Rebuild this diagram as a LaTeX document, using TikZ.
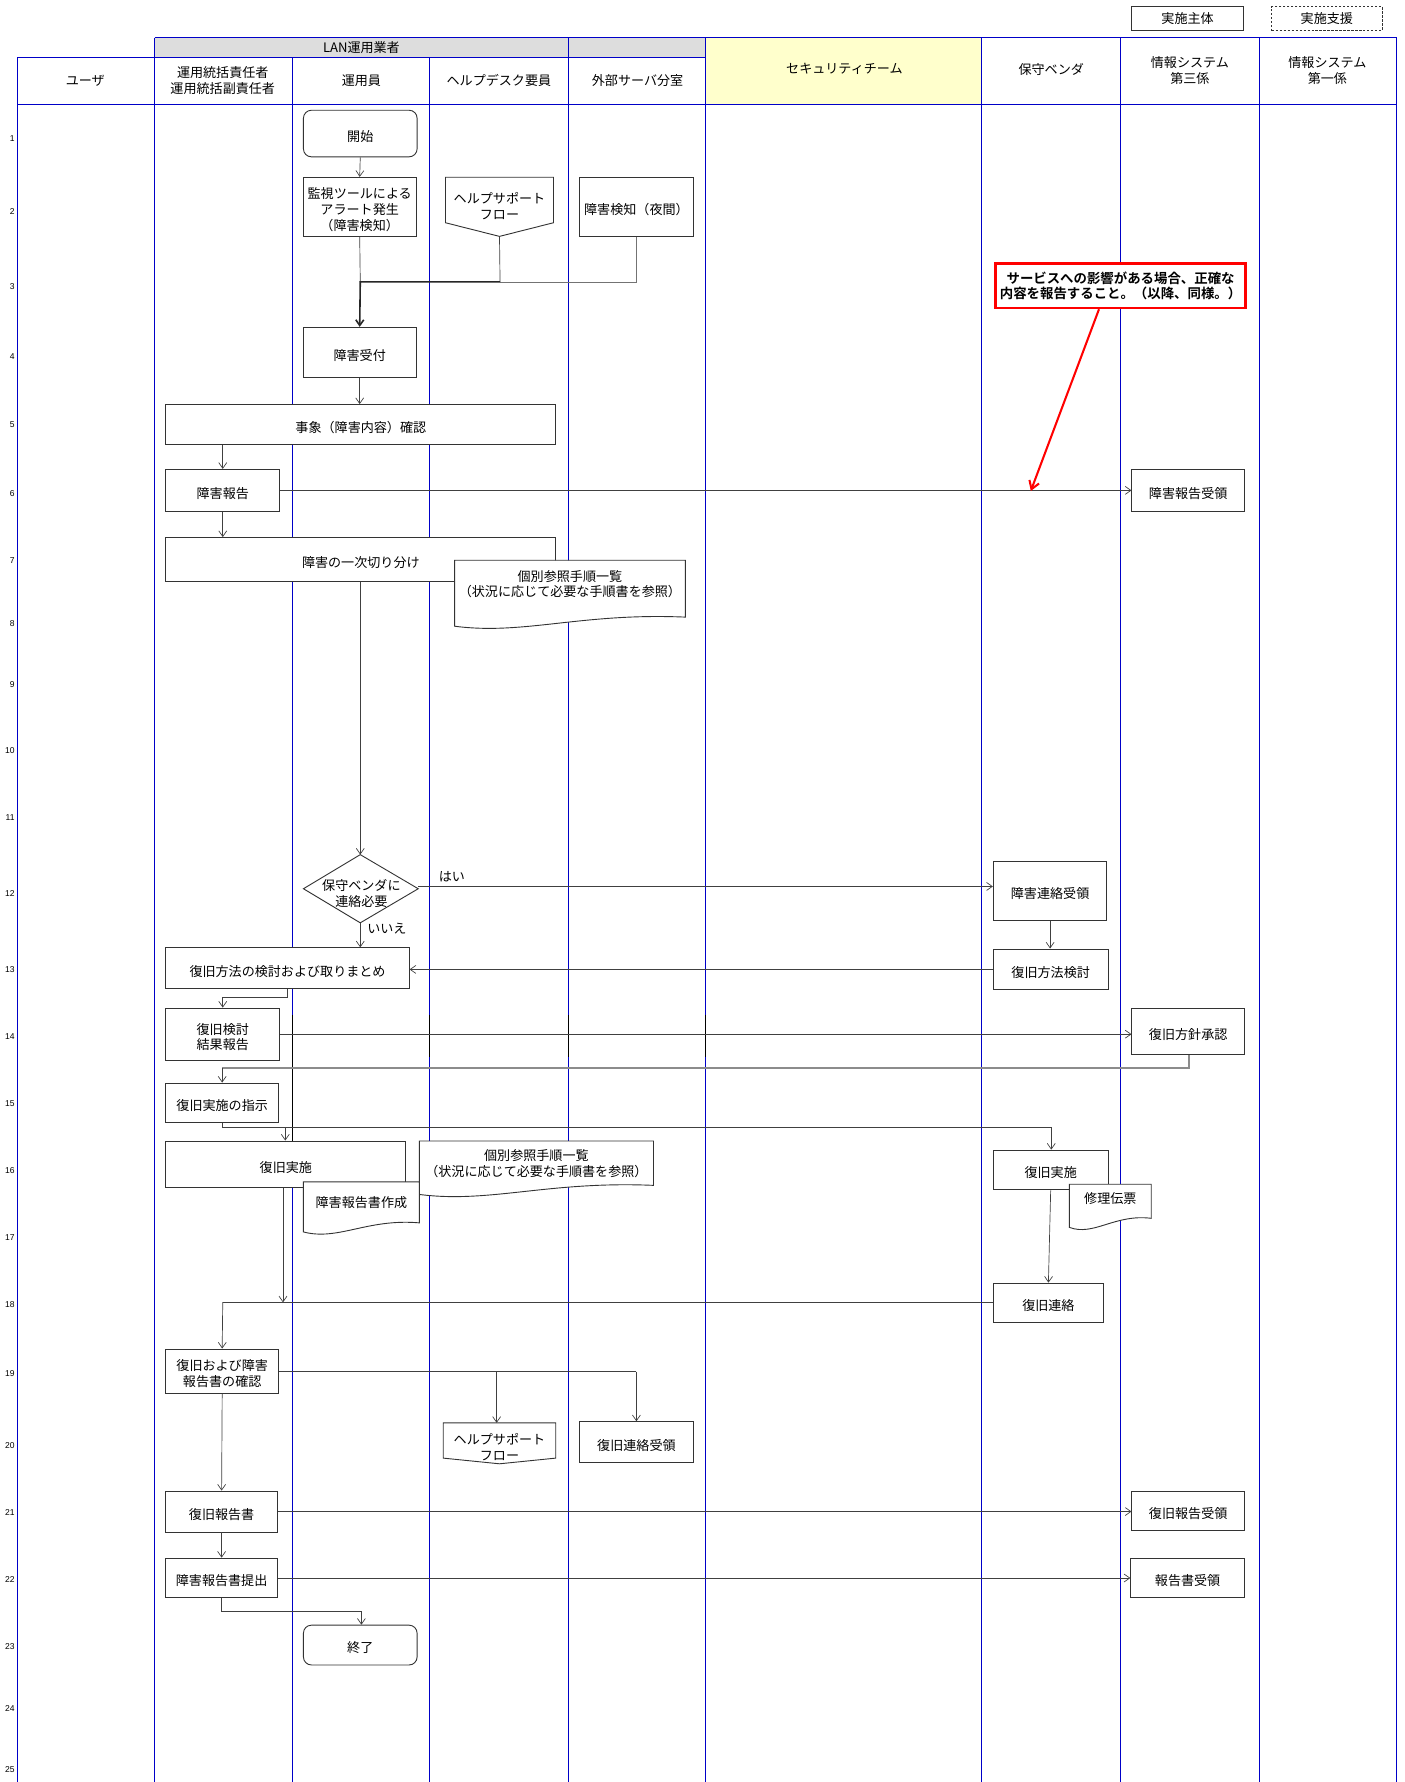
\documentclass[tikz,border=0pt]{standalone}
\usepackage{fontspec}
\setmainfont{Noto Sans CJK JP}[BoldFont={Noto Sans CJK JP Bold}]
\newfontfamily\numfont{Liberation Sans}
\usetikzlibrary{arrows.meta,calc}
\definecolor{lanecol}{RGB}{0,0,200}
\definecolor{hdryellow}{RGB}{255,255,204}
\definecolor{hdrgrey}{RGB}{221,221,221}
\tikzset{
  lane/.style={draw=lanecol,line width=0.9pt},
  box/.style={draw=black!80,line width=0.8pt,fill=white,inner sep=0pt},
  txt/.style={inner sep=0pt,align=center,font=\fontsize{11.5}{14}\selectfont},
  hdr/.style={inner sep=0pt,align=center,font=\fontsize{11.5}{14}\selectfont},
  shapeline/.style={draw=black!80,line width=0.8pt,fill=white},
  conn/.style={draw=black!75,line width=0.6pt},
  arr/.style={conn,-{Straight Barb[length=5pt,width=7pt]}},
  thickarr/.style={draw=black!85,line width=1.4pt,-{Straight Barb[length=5pt,width=7pt]}},
  num/.style={inner sep=0pt,anchor=east,font=\numfont\fontsize{7.5}{9}\selectfont},
}
% box: [opts] name x1 y1 x2 y2 text  (text set a little below centre, as in the reference)
\newcommand\bx[7][]{%
  \node[box,minimum width={#5pt-#3pt},minimum height={#6pt-#4pt},#1] (#2) at ({(#3+#5)/2},{(#4+#6)/2}) {};
  \node[txt] (#2t) at ([yshift=-2.5pt]#2.center) {#7};}
% document shape: #1 name, #2 x1, #3 y1, #4 x2, #5 bottom-left y, #6 text centre y, #7 text
\newcommand\docsh[7]{%
  \draw[shapeline] (#2,#3) -- (#4,#3) -- (#4,#5-8)
    .. controls ({#2+0.55*(#4-#2)},#5-12) and ({#2+0.3*(#4-#2)},#5+8) .. (#2,#5) -- cycle;
  \node[txt] (#1) at ({(#2+#4)/2},#6) {#7};}
% off-page connector: #1 name, #2 x1, #3 y1, #4 x2, #5 side y, #6 tip y, #7 text centre y, #8 text
\newcommand\offp[8]{%
  \draw[shapeline] (#2,#3) -- (#4,#3) -- (#4,#5) -- ({(#2+#4)/2},#6) -- (#2,#5) -- cycle;
  \coordinate (#1T) at ({(#2+#4)/2},#3);
  \coordinate (#1B) at ({(#2+#4)/2},#6);
  \node[txt] (#1) at ({(#2+#4)/2},#7) {#8};}

\begin{document}
\begin{tikzpicture}[x=1pt,y=-1pt]
\fill[white] (0,0) rectangle (1236,1568);
\useasboundingbox (0,0) rectangle (1236,1568);

% ---------- legend ----------
\node[box,minimum width=98pt,minimum height=21pt] (lgA) at (1045,16.5) {};
\node[txt] (lgAt) at (1045,16.5) {実施主体};
\node[box,dashed,dash pattern=on 2pt off 1.5pt,line width=0.6pt,minimum width=97pt,minimum height=21pt] (lgB) at (1167.5,16.5) {};
\node[txt] (lgBt) at (1167.5,16.5) {実施支援};

% ---------- header fills ----------
\fill[hdrgrey] (136,33) rectangle (621,51);
\fill[hdryellow] (621,33) rectangle (864,92);

% ---------- lane grid ----------
\draw[lane] (136,33) -- (1229,33);
\draw[lane] (15,51) -- (621,51);
\draw[lane] (15,92) -- (1229,92);
\draw[lane] (15,51) -- (15,1568);
\foreach \x in {136,500,621,864,986,1108,1229} \draw[lane] (\x,33) -- (\x,1568);
\foreach \x in {257,378} \draw[lane] (\x,51) -- (\x,1568);
% black cell-border segments
\draw[black,line width=0.9pt] (257,893) -- (257,1010);
\foreach \x in {378,500,621} \draw[black,line width=0.9pt] (\x,893) -- (\x,930);

% ---------- header texts ----------
\node[hdr] (hLAN) at (318,42) {LAN運用業者};
\node[hdr] (hU) at (75,71) {ユーザ};
\node[hdr] (hS) at (196,71) {運用統括責任者\\運用統括副責任者};
\node[hdr] (hO) at (318,71) {運用員};
\node[hdr] (hH) at (439,71) {ヘルプデスク要員};
\node[hdr] (hG) at (561,71) {外部サーバ分室};
\node[hdr] (hSec) at (743,61) {セキュリティチーム};
\node[hdr] (hV) at (925,61) {保守ベンダ};
\node[hdr] (h3) at (1047,62) {情報システム\\第三係};
\node[hdr] (h1) at (1168,62) {情報システム\\第一係};

% ---------- row numbers ----------
\foreach \n/\y in {1/122,2/186,3/252,4/314,5/374,6/434,7/493,8/549,9/602,10/660,11/719,12/786,13/853,14/912,15/971,16/1030,17/1089,18/1148,19/1209,20/1272,21/1331,22/1390,23/1449,24/1503,25/1557}
  \node[num] (r\n) at (13,\y) {\n};

% ---------- shapes ----------
\bx[rounded corners=7pt]{start}{267}{97}{367}{138}{開始}
\bx{mon}{267}{156}{366}{208}{監視ツールによる\\アラート発生\\（障害検知）}
\offp{hp}{392}{156}{487}{196}{208}{181}{ヘルプサポート\\フロー}
\bx{det}{510}{156}{610}{208}{障害検知（夜間）}
\bx{uk}{267}{288}{366}{332}{障害受付}
\bx{jisho}{146}{356}{489}{391}{事象（障害内容）確認}
\bx{hok}{146}{413}{246}{450}{障害報告}
\bx{hokr}{996}{413}{1095}{450}{障害報告受領}
\bx{ichiji}{146}{473}{489}{512}{障害の一次切り分け}
\docsh{docA}{400}{493}{603}{551}{514}{個別参照手順一覧\\（状況に応じて必要な手順書を参照）}

% decision
\draw[shapeline] (267,782) -- (317,752) -- (368,782) -- (317,812) -- cycle;
\coordinate (diaT) at (317,752);
\coordinate (diaR) at (368,780);
\coordinate (diaB) at (317,812);
\node[txt] (dia) at (318,786) {保守ベンダに\\連絡必要};

\bx{renraku}{874}{758}{974}{810}{障害連絡受領}
\bx{fkL}{146}{834}{360}{870}{復旧方法の検討および取りまとめ}
\bx{fkR}{874}{835}{975}{871}{復旧方法検討}
\bx{kekka}{146}{887}{246}{933}{復旧検討\\結果報告}
\bx{shonin}{996}{887}{1095}{928}{復旧方針承認}
\bx{shiji}{146}{953}{245}{988}{復旧実施の指示}
\bx{jsL}{146}{1004}{357}{1045}{復旧実施}
\docsh{docB}{369}{1004}{575}{1051}{1024}{個別参照手順一覧\\（状況に応じて必要な手順書を参照）}
\docsh{docC}{267}{1040}{369}{1084}{1058}{障害報告書作成}
\bx{jsR}{874}{1012}{975}{1047}{復旧実施}
\docsh{docD}{941}{1042}{1013}{1080}{1055}{修理伝票}
\bx{fren}{874}{1129}{971}{1164}{復旧連絡}
\bx{kakunin}{146}{1187}{245}{1226}{復旧および障害\\報告書の確認}
\offp{hq}{390}{1252}{489}{1283}{1288}{1273}{ヘルプサポート\\フロー}
\bx{fjr}{510}{1251}{610}{1287}{復旧連絡受領}
\bx{fhok}{146}{1312}{244}{1348}{復旧報告書}
\bx{fhokr}{996}{1312}{1095}{1347}{復旧報告受領}
\bx{teis}{146}{1371}{244}{1406}{障害報告書提出}
\bx{hjr}{995}{1371}{1095}{1406}{報告書受領}
\bx[rounded corners=7pt]{fin}{267}{1430}{367}{1465}{終了}

% ---------- connectors ----------
\draw[arr] (start.south) -- (mon.north);
\coordinate (j1) at (317,248);
\coordinate (j2) at (440,248);
\coordinate (j3) at (560,248);
\draw[conn] (mon.south) -- (j1);
\draw[conn] (hpB) -- (j2);
\draw[conn,draw=black!55] (det.south) -- (j3) -- (j2);
\draw[thickarr] (j2) -- (j1) -- (uk.north);
\draw[arr] (uk.south) -- (uk.south |- jisho.north);
\draw[arr] (hok.north |- jisho.south) -- (hok.north);
\draw[arr] (hok.east) -- (hok.east -| hokr.west);
\draw[arr] (hok.south) -- (hok.south |- ichiji.north);
\draw[arr] (ichiji.south -| diaT) -- (diaT);
\draw[arr] (diaR) -- (diaR -| renraku.west);
\node[txt,anchor=south west] (yes) at (386,776) {はい};
\draw[arr] (diaB) -- (diaB |- fkL.north);
\node[txt,anchor=north west] (no) at (323,812) {いいえ};
\draw[arr] (renraku.south) -- (renraku.south |- fkR.north);
\draw[arr] (fkR.west) -- (fkR.west -| fkL.east);
\coordinate (k1) at (253,878);
\draw[arr] (fkL.south -| k1) -- (k1) -- (k1 -| kekka.north) -- (kekka.north);
\draw[arr] (kekka.east) -- (kekka.east -| shonin.west);
\coordinate (s1) at (1046,940);
\draw[draw=black!45,line width=1.6pt] (shonin.south -| s1) -- (s1) -- (s1 -| shiji.north);
\draw[arr] (s1 -| shiji.north) -- (shiji.north);
\coordinate (i1) at (196,992);
\coordinate (i2) at (251,992);
\coordinate (i3) at (925,992);
\draw[conn] (shiji.south -| i1) -- (i1) -- (i3);
\draw[arr] (i3) -- (i3 |- jsR.north);
\draw[arr] (i2) -- (i2 |- jsL.north);
\draw[arr] (jsR.south) -- (fren.north);
\coordinate (f1) at (196,1146);
\coordinate (f2) at (249,1146);
\draw[arr] (jsL.south -| f2) -- (f2);
\draw[arr] (fren.west |- f1) -- (f1) -- (kakunin.north);
\coordinate (q1) at (437,1207);
\coordinate (q2) at (560,1207);
\draw[conn] (kakunin.east |- q1) -- (q2);
\draw[arr] (q1) -- (q1 |- hqT);
\draw[arr] (q2) -- (q2 |- fjr.north);
\draw[arr] (kakunin.south) -- (fhok.north);
\draw[arr] (fhok.east) -- (fhok.east -| fhokr.west);
\draw[arr] (fhok.south) -- (teis.north);
\draw[arr] (teis.east) -- (teis.east -| hjr.west);
\coordinate (e1) at (195,1418);
\coordinate (e2) at (318,1418);
\draw[arr] (teis.south) -- (e1) -- (e2) -- (e2 |- fin.north);

% ---------- callout ----------
\node[draw=red,line width=2.2pt,fill=white,minimum width=220pt,minimum height=39pt,inner sep=0pt,align=center,
  font=\bfseries\fontsize{11.8}{14}\selectfont] (note) at (986,251.5)
  {サービスへの影響がある場合、正確な\\内容を報告すること。（以降、同様。）};
\coordinate (nt) at (907,432);
\draw[red,line width=1.8pt,-{Straight Barb[length=7pt,width=9pt]}] (note.south -| 967,0) -- (nt);
\end{tikzpicture}
\end{document}
